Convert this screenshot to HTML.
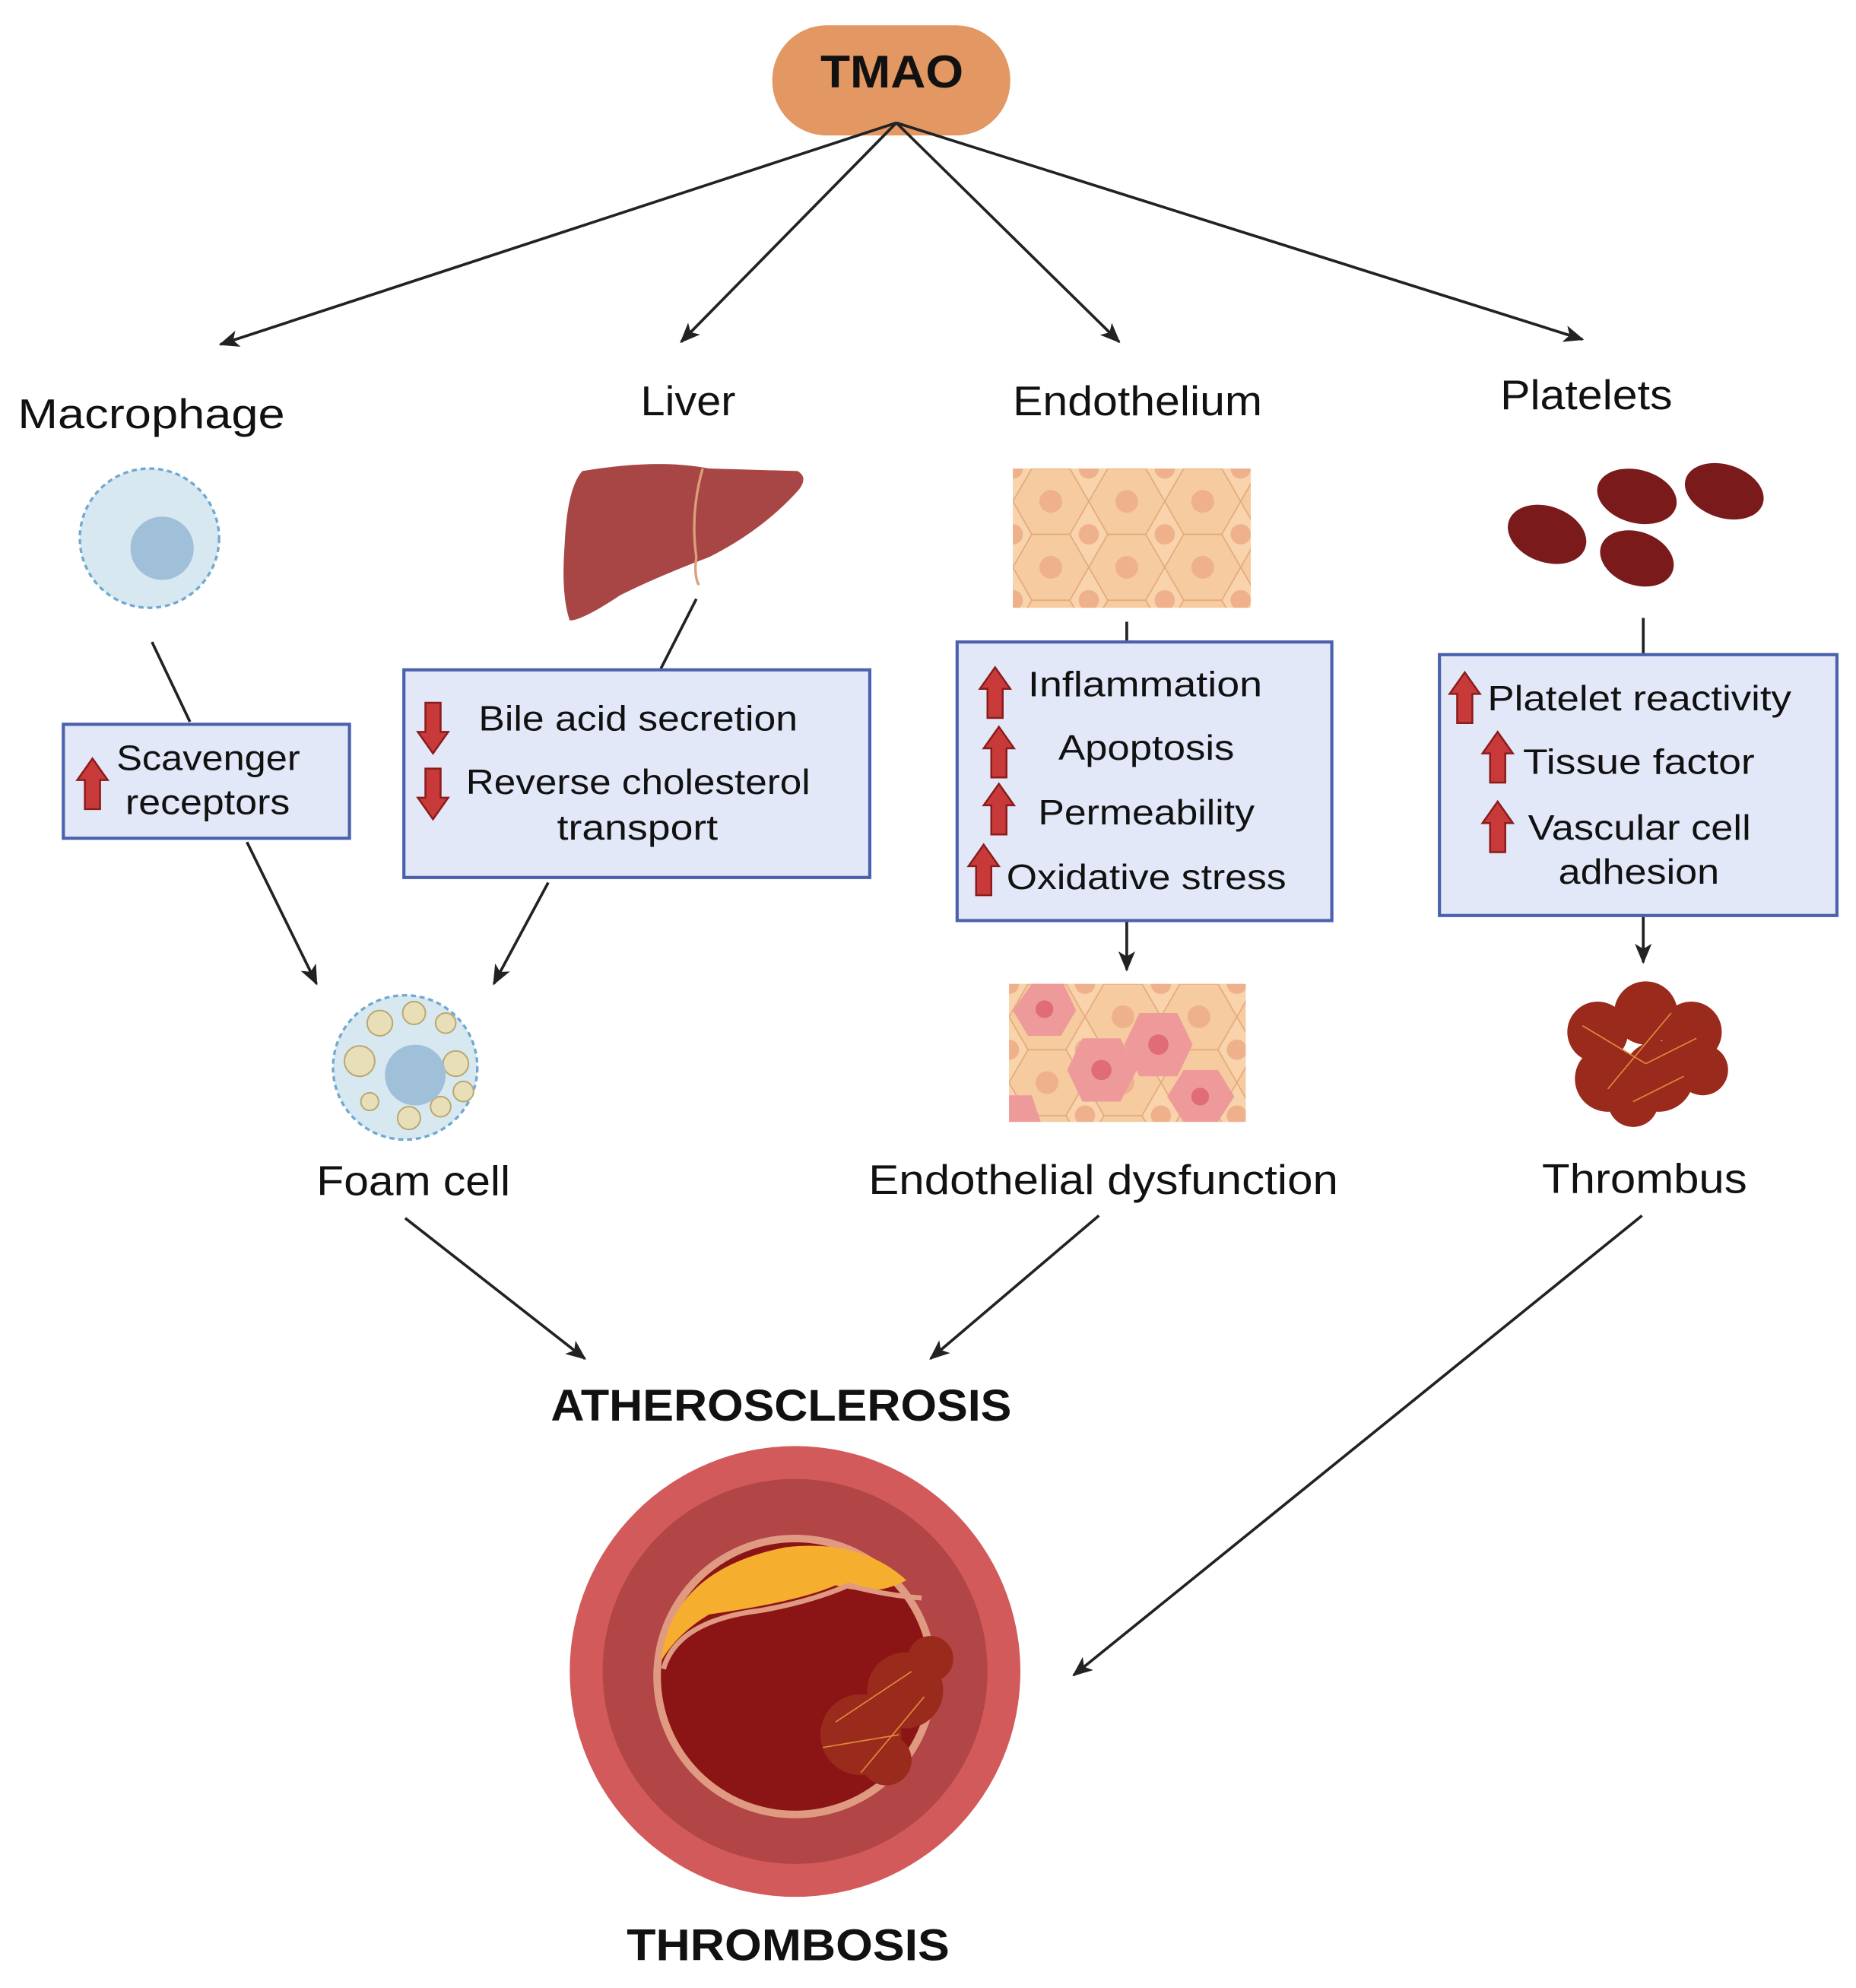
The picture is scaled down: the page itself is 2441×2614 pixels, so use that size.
<!DOCTYPE html>
<html><head><meta charset="utf-8"><style>html,body{margin:0;padding:0;background:#fff}svg{display:block}</style></head>
<body>
<svg xmlns="http://www.w3.org/2000/svg" width="2441" height="2614" viewBox="0 0 1466 1570" font-family="Liberation Sans, Arial, sans-serif">
<defs>
<marker id="ah2" viewBox="0 0 12 10" markerWidth="16" markerHeight="14" refX="11" refY="5" orient="auto" markerUnits="userSpaceOnUse"><path d="M0,0 L12,5 L0,10 L3,5 z" fill="#222"/></marker>
<pattern id="hex" width="60" height="52" patternUnits="userSpaceOnUse" x="800" y="370">
<rect width="60" height="52" fill="#f8d3ab"/>
<polygon points="15,0 45,0 60,26 45,52 15,52 0,26" fill="#f6cba0" stroke="#e3a978" stroke-width="1"/>
<circle cx="30" cy="26" r="9" fill="#eeb18c"/>
<circle cx="0" cy="0" r="8" fill="#eeb18c"/><circle cx="60" cy="0" r="8" fill="#eeb18c"/><circle cx="0" cy="52" r="8" fill="#eeb18c"/><circle cx="60" cy="52" r="8" fill="#eeb18c"/>
</pattern>
<pattern id="hex2" width="60" height="52" patternUnits="userSpaceOnUse" x="797" y="777">
<rect width="60" height="52" fill="#f8d3ab"/>
<polygon points="15,0 45,0 60,26 45,52 15,52 0,26" fill="#f6cba0" stroke="#e3a978" stroke-width="1"/>
<circle cx="30" cy="26" r="9" fill="#eeb18c"/>
<circle cx="0" cy="0" r="8" fill="#eeb18c"/><circle cx="60" cy="0" r="8" fill="#eeb18c"/><circle cx="0" cy="52" r="8" fill="#eeb18c"/><circle cx="60" cy="52" r="8" fill="#eeb18c"/>
</pattern>
<g id="up"><path d="M0,-20 L12,-3 L6,-3 L6,20 L-6,20 L-6,-3 L-12,-3 z" fill="#c83a3a" stroke="#8a1c1c" stroke-width="1.5"/></g>
<g id="down"><path d="M0,20 L12,3 L6,3 L6,-20 L-6,-20 L-6,3 L-12,3 z" fill="#c83a3a" stroke="#8a1c1c" stroke-width="1.5"/></g>
</defs>

<rect x="610" y="20" width="188" height="87" rx="43" fill="#e39762"/>
<text x="648" y="69" font-size="36" font-weight="bold" fill="#111" textLength="113" lengthAdjust="spacingAndGlyphs">TMAO</text>

<g stroke="#222" stroke-width="2.2" fill="none">
<line x1="708" y1="97" x2="174" y2="272" marker-end="url(#ah2)"/>
<line x1="708" y1="97" x2="538" y2="270" marker-end="url(#ah2)"/>
<line x1="708" y1="97" x2="884" y2="270" marker-end="url(#ah2)"/>
<line x1="708" y1="97" x2="1250" y2="268" marker-end="url(#ah2)"/>
<line x1="120" y1="507" x2="150" y2="570"/>
<line x1="195" y1="665" x2="250" y2="777" marker-end="url(#ah2)"/>
<line x1="550" y1="473" x2="522" y2="528"/>
<line x1="433" y1="697" x2="390" y2="777" marker-end="url(#ah2)"/>
<line x1="890" y1="491" x2="890" y2="507"/>
<line x1="890" y1="728" x2="890" y2="766" marker-end="url(#ah2)"/>
<line x1="1298" y1="488" x2="1298" y2="517"/>
<line x1="1298" y1="724" x2="1298" y2="760" marker-end="url(#ah2)"/>
<line x1="320" y1="962" x2="462" y2="1073" marker-end="url(#ah2)"/>
<line x1="868" y1="960" x2="735" y2="1073" marker-end="url(#ah2)"/>
<line x1="1297" y1="960" x2="848" y2="1323" marker-end="url(#ah2)"/>
</g>

<g font-size="33" fill="#111" lengthAdjust="spacingAndGlyphs">
<text x="14" y="338" textLength="211" lengthAdjust="spacingAndGlyphs">Macrophage</text>
<text x="506" y="328" textLength="75" lengthAdjust="spacingAndGlyphs">Liver</text>
<text x="800" y="328" textLength="197" lengthAdjust="spacingAndGlyphs">Endothelium</text>
<text x="1185" y="323" textLength="136" lengthAdjust="spacingAndGlyphs">Platelets</text>
<text x="250" y="944" textLength="153" lengthAdjust="spacingAndGlyphs">Foam cell</text>
<text x="686" y="943" textLength="371" lengthAdjust="spacingAndGlyphs">Endothelial dysfunction</text>
<text x="1218" y="942" textLength="162" lengthAdjust="spacingAndGlyphs">Thrombus</text>
</g>

<circle cx="118" cy="425" r="55" fill="#d8e8f0" stroke="#6fa9d2" stroke-width="2" stroke-dasharray="4 3"/>
<circle cx="128" cy="433" r="25" fill="#9fc0d8"/>

<path d="M460,372 Q520,362 560,370 L630,372 Q640,378 628,390 Q600,420 560,440 Q520,455 490,470 Q460,490 450,490 Q443,470 446,430 Q448,385 460,372 z" fill="#a84545"/>
<path d="M555,370 Q545,405 550,440 Q548,455 552,462" stroke="#d9a07a" stroke-width="2" fill="none"/>

<rect x="800" y="370" width="188" height="110" fill="url(#hex)"/>
<rect x="797" y="777" width="187" height="109" fill="url(#hex2)"/>
<g fill="#ee9a9a">
<polygon points="815,777 840,777 850,798 838,818 812,818 800,798"/>
<polygon points="855,820 885,820 898,845 885,870 855,870 843,845"/>
<polygon points="900,800 930,800 942,825 930,850 900,850 888,825"/>
<polygon points="935,845 962,845 975,866 962,886 935,886 922,866"/>
<polygon points="797,865 815,865 822,886 797,886"/>
</g>
<g fill="#e06b79"><circle cx="825" cy="797" r="7"/><circle cx="870" cy="845" r="8"/><circle cx="915" cy="825" r="8"/><circle cx="948" cy="866" r="7"/></g>

<g fill="#7a1a1a">
<ellipse cx="1222" cy="422" rx="32" ry="22" transform="rotate(20 1222 422)"/>
<ellipse cx="1293" cy="392" rx="32" ry="21" transform="rotate(15 1293 392)"/>
<ellipse cx="1362" cy="388" rx="32" ry="21" transform="rotate(18 1362 388)"/>
<ellipse cx="1293" cy="441" rx="30" ry="21" transform="rotate(20 1293 441)"/>
</g>

<g fill="#e3e8f8" stroke="#4a62ad" stroke-width="2.5">
<rect x="50" y="572" width="226" height="90"/>
<rect x="319" y="529" width="368" height="164"/>
<rect x="756" y="507" width="296" height="220"/>
<rect x="1137" y="517" width="314" height="206"/>
</g>
<g font-size="28" fill="#111">
<text x="92" y="608" textLength="145" lengthAdjust="spacingAndGlyphs">Scavenger</text>
<text x="99" y="643" textLength="130" lengthAdjust="spacingAndGlyphs">receptors</text>
<text x="378" y="577" textLength="252" lengthAdjust="spacingAndGlyphs">Bile acid secretion</text>
<text x="368" y="627" textLength="272" lengthAdjust="spacingAndGlyphs">Reverse cholesterol</text>
<text x="440" y="663" textLength="127" lengthAdjust="spacingAndGlyphs">transport</text>
<text x="812" y="550" textLength="185" lengthAdjust="spacingAndGlyphs">Inflammation</text>
<text x="836" y="600" textLength="139" lengthAdjust="spacingAndGlyphs">Apoptosis</text>
<text x="820" y="651" textLength="171" lengthAdjust="spacingAndGlyphs">Permeability</text>
<text x="795" y="702" textLength="221" lengthAdjust="spacingAndGlyphs">Oxidative stress</text>
<text x="1175" y="561" textLength="240" lengthAdjust="spacingAndGlyphs">Platelet reactivity</text>
<text x="1203" y="611" textLength="183" lengthAdjust="spacingAndGlyphs">Tissue factor</text>
<text x="1207" y="663" textLength="176" lengthAdjust="spacingAndGlyphs">Vascular cell</text>
<text x="1231" y="698" textLength="127" lengthAdjust="spacingAndGlyphs">adhesion</text>
</g>
<use href="#up" x="73" y="619"/>
<use href="#down" x="342" y="575"/>
<use href="#down" x="342" y="627"/>
<use href="#up" x="786" y="547"/>
<use href="#up" x="789" y="594"/>
<use href="#up" x="789" y="639"/>
<use href="#up" x="777" y="687"/>
<use href="#up" x="1157" y="551"/>
<use href="#up" x="1183" y="598"/>
<use href="#up" x="1183" y="653"/>

<circle cx="320" cy="843" r="57" fill="#d8e8f0" stroke="#6fa9d2" stroke-width="2" stroke-dasharray="4 3"/>
<g fill="#e8dfb8" stroke="#b9a870" stroke-width="1.2">
<circle cx="300" cy="808" r="10"/><circle cx="327" cy="800" r="9"/><circle cx="352" cy="808" r="8"/><circle cx="284" cy="838" r="12"/><circle cx="360" cy="840" r="10"/><circle cx="292" cy="870" r="7"/><circle cx="323" cy="883" r="9"/><circle cx="348" cy="874" r="8"/><circle cx="366" cy="862" r="8"/>
</g>
<circle cx="328" cy="849" r="24" fill="#9fc0d8"/>

<g fill="#9a2a1c">
<circle cx="1262" cy="815" r="24"/><circle cx="1300" cy="800" r="25"/><circle cx="1336" cy="815" r="24"/><circle cx="1270" cy="852" r="26"/><circle cx="1310" cy="850" r="28"/><circle cx="1345" cy="845" r="20"/><circle cx="1290" cy="870" r="20"/>
</g>
<g stroke="#e08a3a" stroke-width="1" fill="none"><path d="M1250,810 L1300,840 L1340,820 M1270,860 L1320,800 M1290,870 L1330,850"/></g>

<circle cx="628" cy="1320" r="178" fill="#d35a5a"/>
<circle cx="628" cy="1320" r="152" fill="#b24545"/>
<circle cx="628" cy="1324" r="112" fill="#e09a82"/>
<circle cx="628" cy="1324" r="106" fill="#8b1515"/>
<path d="M522,1312 Q530,1240 620,1222 Q680,1215 716,1248 Q690,1262 660,1252 Q630,1265 560,1275 Q535,1290 522,1312 z" fill="#f5ae2e"/>
<path d="M524,1318 Q535,1280 600,1272 Q640,1265 670,1252 Q700,1260 728,1262" stroke="#e09a82" stroke-width="4" fill="none"/>
<g fill="#9a2a1c"><circle cx="715" cy="1335" r="30"/><circle cx="680" cy="1370" r="32"/><circle cx="735" cy="1310" r="18"/><circle cx="700" cy="1390" r="20"/></g>
<g stroke="#e08a3a" stroke-width="1" fill="none"><path d="M660,1360 L720,1320 M680,1400 L730,1340 M650,1380 L710,1370"/></g>

<text x="435" y="1122" font-size="35" font-weight="bold" fill="#111" textLength="364" lengthAdjust="spacingAndGlyphs">ATHEROSCLEROSIS</text>
<text x="495" y="1548" font-size="35" font-weight="bold" fill="#111" textLength="255" lengthAdjust="spacingAndGlyphs">THROMBOSIS</text>
</svg>
</body></html>
